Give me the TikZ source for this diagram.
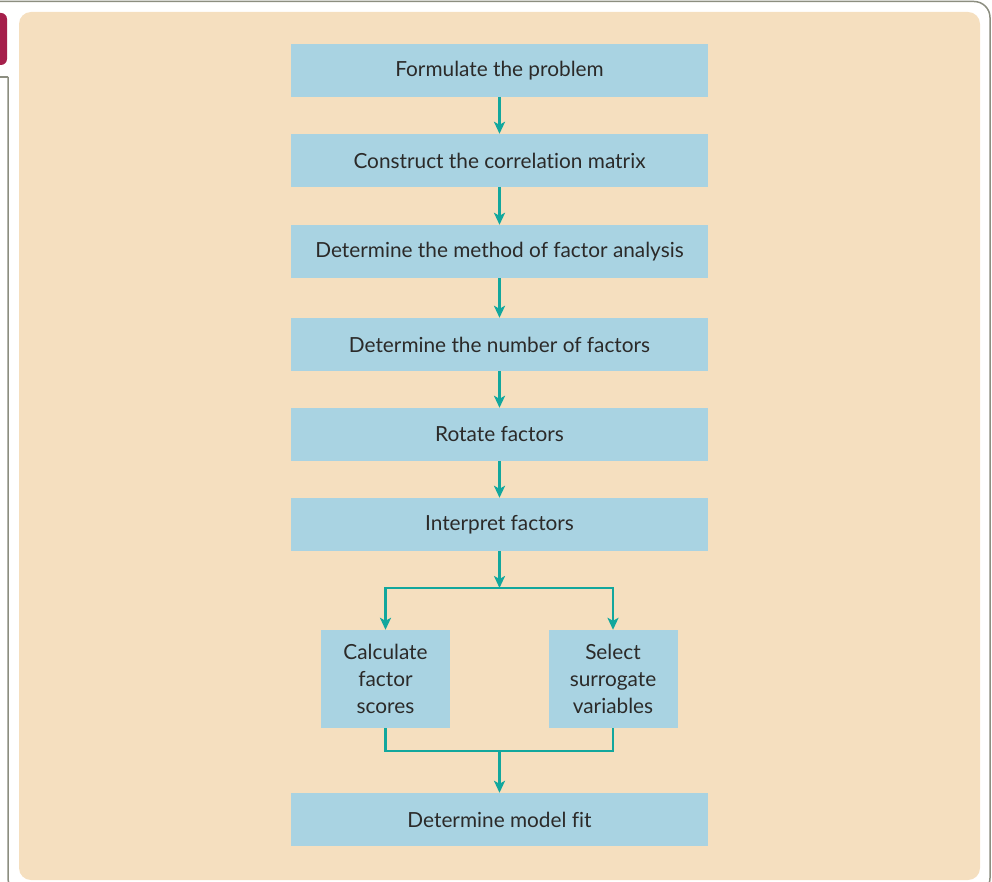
\documentclass[tikz,border=0pt]{standalone}
\usepackage{fontspec}
\setmainfont[Ligatures=NoCommon]{Lato}
\usetikzlibrary{arrows.meta}
\definecolor{panel}{HTML}{F5DFBF}
\definecolor{boxblue}{HTML}{A9D3E2}
\definecolor{flowteal}{HTML}{12A79D}
\definecolor{framegray}{HTML}{8C8E80}
\definecolor{tabred}{HTML}{A51F4B}
\definecolor{ink}{HTML}{2B2A29}
\tikzset{
  box/.style={fill=boxblue,text=ink,inner sep=0pt,minimum width=417pt,minimum height=53pt},
  smallbox/.style={box,minimum width=129pt,minimum height=98pt,align=center},
  flow/.style={draw=flowteal,line width=2.5pt,-{Stealth[length=12pt,width=11pt,inset=3pt]}},
  link/.style={draw=flowteal,line width=2.5pt}
}
\begin{document}
\begin{tikzpicture}[x=1pt,y=-1pt,font=\fontsize{20.8}{27}\selectfont]
\useasboundingbox (0,0) rectangle (992,882);
\clip (0,0) rectangle (992,882);
% frame and panel
\draw[framegray,line width=1.5pt] (0,77)--(8,77);
\draw[framegray,line width=1.5pt,rounded corners=16pt] (8,77)--(8,894)--(990,894)--(990,1.5)--(0,1.5);
\fill[tabred,rounded corners=6pt] (-10,13) rectangle (7,65);
\fill[panel,rounded corners=12pt] (19,12) rectangle (980,880);
% main chain
\foreach \n/\y/\t in {form/70.5/Formulate the problem,corr/160.5/Construct the correlation matrix,meth/251.5/Determine the method of factor analysis,numb/344.5/Determine the number of factors,rota/434.5/Rotate factors,inte/524.5/Interpret factors,fit/819.5/Determine model fit}{\node[box] (\n) at (499.5,\y) {\t};}
\foreach \a/\b in {form/corr,corr/meth,meth/numb,numb/rota,rota/inte}{\draw[flow] (\a)--(\b);}
% branches
\node[smallbox] (calc) at (385.5,679) {Calculate\\factor\\scores};
\node[smallbox] (surr) at (613,679) {Select\\surrogate\\variables};
\coordinate (split) at (499.5,588);
\coordinate (merge) at (499.5,751);
\draw[flow] (inte)--(split);
\draw[flow] (split)-|(calc);
\draw[flow] (split)-|(surr);
\draw[link] (calc)|-(merge);
\draw[link] (surr)|-(merge);
\draw[flow] (merge)--(fit);
\end{tikzpicture}
\end{document}
